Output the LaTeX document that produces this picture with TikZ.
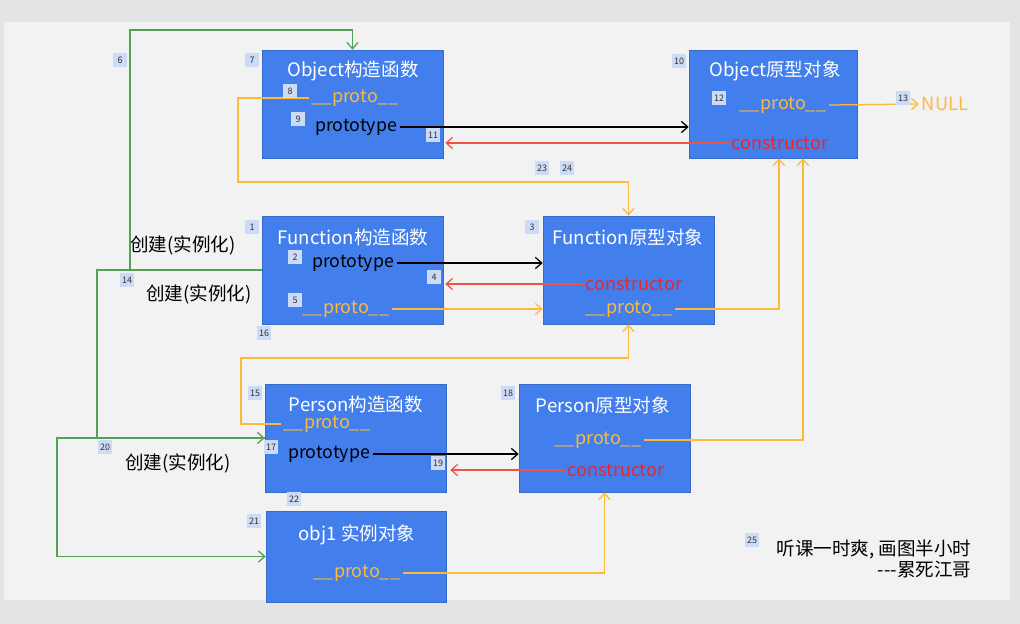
\documentclass[tikz,border=0pt]{standalone}
\usepackage{fontspec}
\setmainfont{Noto Sans CJK SC}
\usepackage{xcolor}
\usetikzlibrary{arrows.meta}

\definecolor{boxblue}{RGB}{66,126,236}
\definecolor{protoorange}{RGB}{252,186,58}
\definecolor{ctorred}{RGB}{240,36,40}
\definecolor{linkred}{RGB}{236,84,72}
\definecolor{makegreen}{RGB}{84,160,84}
\definecolor{tagblue}{RGB}{204,220,246}
\definecolor{pagegray}{RGB}{242,242,242}
\definecolor{outergray}{RGB}{228,228,228}

\tikzset{
    objbox/.style={fill=boxblue,draw=boxblue!85!black,line width=0.4pt,minimum height=108*0.025cm,inner sep=0pt},
    boxtitle/.style={text=white,font=\fontsize{13.2}{15}\selectfont,inner sep=1pt},
    protofield/.style={text=protoorange,font=\fontsize{12.8}{15}\selectfont,inner sep=2pt},
    protolink/.style={text=black,font=\fontsize{12.6}{15}\selectfont,inner sep=2pt},
    ctorfield/.style={text=ctorred,font=\fontsize{12.8}{15}\selectfont,inner sep=2pt},
    maketext/.style={text=black,font=\fontsize{13.2}{15}\selectfont},
    tag/.style={fill=tagblue,text=black!80,font=\fontsize{6.4}{7}\selectfont,minimum size=14*0.025cm,inner sep=0pt},
    orline/.style={protoorange,line width=0.9pt,-{Straight Barb[length=1.6mm,width=2.8mm]}},
    bkline/.style={black,line width=0.9pt,-{Straight Barb[length=1.6mm,width=2.8mm]}},
    rdline/.style={linkred,line width=0.9pt,-{Straight Barb[length=1.6mm,width=2.8mm]}},
    grline/.style={makegreen,line width=0.9pt,-{Straight Barb[length=1.6mm,width=2.8mm]}}
}

\begin{document}
\begin{tikzpicture}[x=0.025cm,y=-0.025cm]
    \useasboundingbox (0,0) rectangle (1020,624);
    \fill[outergray] (0,0) rectangle (1020,624);
    \fill[pagegray] (4,22) rectangle (1010,600);

    % boxes
    \node[objbox,minimum width=181*0.025cm] (objF) at (352.5,104) {};
    \node[objbox,minimum width=168*0.025cm] (objP) at (773,104) {};
    \node[objbox,minimum width=181*0.025cm] (funF) at (352.5,270) {};
    \node[objbox,minimum width=171*0.025cm] (funP) at (628.5,270) {};
    \node[objbox,minimum width=181*0.025cm] (perF) at (355.5,438) {};
    \node[objbox,minimum width=171*0.025cm] (perP) at (604.5,438) {};
    \node[objbox,minimum width=180*0.025cm,minimum height=91*0.025cm] (obj1) at (356,556.5) {};

    % Object
    \node[boxtitle] (oft) at (353,71) {Object构造函数};
    \node[protofield] (ofpr) at (355,98) {\_\_proto\_\_};
    \node[protolink] (ofpt) at (356,127) {prototype};
    \node[boxtitle] (opt) at (775,71) {Object原型对象};
    \node[protofield] (oppr) at (783,105) {\_\_proto\_\_};
    \node[ctorfield] (opc) at (780,143) {constructor};
    \node[protofield,font=\fontsize{13}{15}\selectfont] (null) at (945,104) {NULL};

    % Function
    \node[boxtitle] (fft) at (353,237) {Function构造函数};
    \node[protolink] (ffpt) at (353,263) {prototype};
    \node[protofield] (ffpr) at (346,309) {\_\_proto\_\_};
    \node[boxtitle] (fpt) at (628,237) {Function原型对象};
    \node[ctorfield] (fpc) at (634,284) {constructor};
    \node[protofield] (fppr) at (629,309) {\_\_proto\_\_};

    % Person
    \node[boxtitle] (pft) at (356,404) {Person构造函数};
    \node[protofield] (pfpr) at (327,424) {\_\_proto\_\_};
    \node[protolink] (pfpt) at (329,454) {prototype};
    \node[boxtitle] (ppt) at (603,405) {Person原型对象};
    \node[protofield] (pppr) at (598,440) {\_\_proto\_\_};
    \node[ctorfield] (ppc) at (616,470) {constructor};

    % obj1
    \node[boxtitle] (o1t) at (357,535) {obj1 实例对象};
    \node[protofield] (o1pr) at (357,573) {\_\_proto\_\_};

    % labels
    \node[maketext] (mk1) at (183,245) {创建(实例化)};
    \node[maketext] (mk2) at (199,294) {创建(实例化)};
    \node[maketext] (mk3) at (178,463) {创建(实例化)};
    \node[maketext,align=right] (note) at (874,559) {听课一时爽, 画图半小时\\{-}{-}{-}累死江哥};

    % prototype links
    \draw[bkline] (ofpt.east) -- (objP.west |- ofpt);
    \draw[bkline] (ffpt.east) -- (funP.west |- ffpt);
    \draw[bkline] (pfpt.east) -- (perP.west |- pfpt);

    % constructor links
    \draw[rdline] (opc.west) -- ([xshift=0.05cm]objF.east |- opc);
    \draw[rdline] (fpc.west) -- ([xshift=0.05cm]funF.east |- fpc);
    \draw[rdline] (ppc.west) -- ([xshift=0.1cm]perF.east |- ppc);

    % __proto__ chain
    \draw[orline] (ofpr.west) -| (238,182) -| (funP.north);
    \draw[orline] (oppr.east) -- (null.west);
    \draw[orline] (ffpr.east) -- (funP.west |- ffpr);
    \draw[orline] (fppr.east) -| ([xshift=0.15cm]objP.south);
    \draw[orline] (pppr.east) -| ([xshift=0.75cm]objP.south);
    \draw[orline] (pfpr.west) -| (241,358) -| (funP.south);
    \draw[orline] (o1pr.east) -| (perP.south);

    % creation
    \draw[grline] (funF.west) -| (130,30) -| (objF.north);
    \draw[grline] (funF.west) -| (97,438) -- (perF.west);
    \draw[grline] (perF.west) -| (57,556.5) -- (obj1.west);

    % numbered tags
    \foreach \n/\x/\y in {1/252/227, 2/295/257, 3/532/227, 4/434/277, 5/295/300,
        6/120/60, 7/252/60, 8/290/91, 9/298/119, 10/679/61, 11/433/135,
        12/719/98, 13/903/98, 14/127/280, 15/255/393, 16/264/333, 17/271/447,
        18/508/393, 19/438/463, 20/105/447, 21/254/521, 22/294/499,
        23/542/168, 24/567/168, 25/752/540}
        \node[tag] (t\n) at (\x,\y) {\n};
\end{tikzpicture}
\end{document}
